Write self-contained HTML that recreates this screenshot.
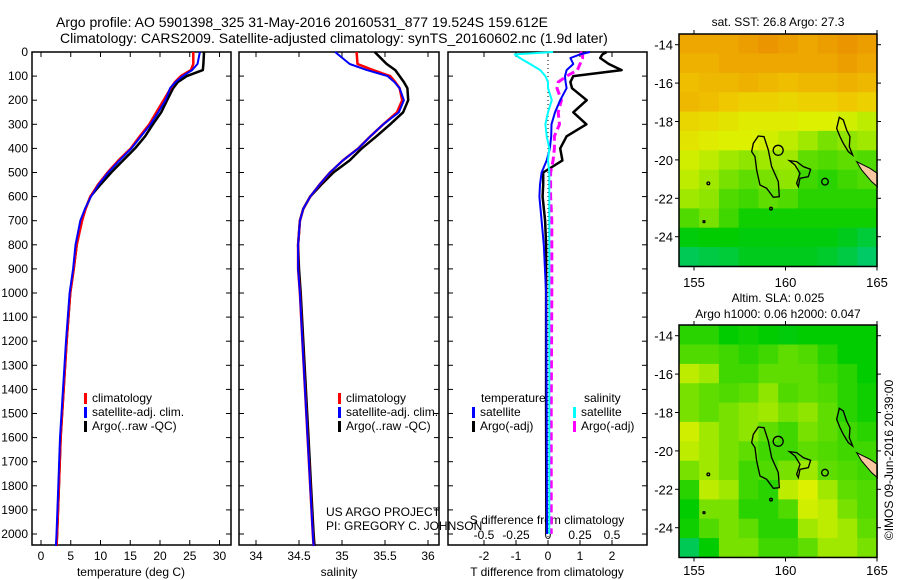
<!DOCTYPE html>
<html><head><meta charset="utf-8"><style>
html,body{margin:0;padding:0;background:#fff;}
svg{display:block;font-family:"Liberation Sans",sans-serif;}
</style></head><body>
<svg id="fig" width="900" height="580" viewBox="0 0 900 580" xmlns="http://www.w3.org/2000/svg">
<g font-size="14">
<text x="56" y="27">Argo profile: AO 5901398_325 31-May-2016 20160531_877 19.524S 159.612E</text>
<text x="60" y="43">Climatology: CARS2009. Satellite-adjusted climatology: synTS_20160602.nc (1.9d later)</text>
</g>
<g id="g1"></g>
<g id="g2"></g>
<g id="g3"></g>
<g id="m1"></g>
<g id="m2"></g>
<text x="893" y="460" font-size="12" text-anchor="middle" transform="rotate(-90 893 460)">©IMOS 09-Jun-2016 20:39:00</text>
</svg>
<script>
// ---- profile data ----
const depths = [0,50,75,100,125,150,200,250,300,350,400,450,500,550,600,650,700,800,900,1000,1200,1400,1600,1800,2000,2050];
const tempClim = [25.6,25.6,25.2,23.5,22.5,21.8,20.6,19.4,18.2,16.6,15.1,13,11.2,9.6,8.3,7.5,6.9,6.0,5.5,4.9,4.3,3.8,3.3,3.0,2.7,2.6];
const tempSat  = [26.7,26.3,25.4,23.8,22.6,21.7,20.9,19.7,18.4,16.8,15.2,13.2,11.3,9.7,8.4,7.4,6.6,5.8,5.4,4.8,4.2,3.7,3.2,2.9,2.6,2.5];
const tempArgo = [27.4,27.3,27.2,24.5,23,22.2,21.2,20.2,18.8,17.5,15.8,13.8,11.8,10,8.3,7.5,6.8,6.0,5.5,4.9,4.3,3.8,3.3,3.0,2.7,2.6];
const salClim = [35.17,35.18,35.36,35.56,35.62,35.67,35.7,35.64,35.48,35.33,35.19,35.01,34.86,34.74,34.63,34.55,34.51,34.49,34.49,34.51,34.54,34.57,34.6,34.63,34.66,34.67];
const salSat  = [34.92,35.09,35.29,35.53,35.61,35.67,35.72,35.66,35.48,35.33,35.19,35.01,34.86,34.74,34.63,34.55,34.51,34.49,34.49,34.51,34.54,34.57,34.6,34.63,34.66,34.67];
const salArgo = [35.38,35.52,35.62,35.67,35.72,35.76,35.77,35.71,35.56,35.4,35.23,35.09,34.9,34.76,34.63,34.55,34.51,34.49,34.5,34.52,34.55,34.58,34.61,34.64,34.67,34.68];
const diffDepths = [0,10,25,50,75,100,125,150,200,250,300,350,400,450,500,550,600,700,800,1000,1500,2000];
const tDiffSat  = [1.31,1.0,0.7,0.79,0.58,0.53,0.55,0.58,0.38,0.22,0.11,0.1,0.06,-0.04,-0.2,-0.25,-0.27,-0.2,-0.13,-0.06,-0.04,-0.03];
const tDiffArgo = [1.83,1.7,1.63,1.9,2.3,0.79,0.7,0.75,1.21,0.79,1.2,0.58,0.38,0.45,-0.15,-0.15,-0.17,-0.09,-0.06,-0.06,-0.06,-0.05];
const sDiffSat  = [0.04,-0.26,-0.22,-0.14,-0.06,-0.02,0,0,0.03,0.0,-0.02,-0.01,0.01,0.0,0.01,0.01,0.01,0.01,0.01,0.01,0.01,0.01];
const sDiffArgo = [0.25,0.27,0.27,0.25,0.23,0.145,0.08,0.07,0.105,0.08,0.09,0.05,0.05,0.04,0.02,0.02,0.02,0.03,0.03,0.03,0.025,0.025];
const depthTicks = [0,100,200,300,400,500,600,700,800,900,1000,1100,1200,1300,1400,1500,1600,1700,1800,1900,2000];
const tempTicks = [0,5,10,15,20,25,30];
const salTicks = [34,34.5,35,35.5,36];
const salTickLabels = ["34","34.5","35","35.5","36"];
const tdTicks = [-2,-1,0,1,2];
const sdTicks = [-0.5,-0.25,0,0.25,0.5];
const sdTickLabels = ["-0.5","-0.25","0","0.25","0.5"];
// ---- map data (rows top->bottom, cols west->east) ----
const sstGrid = [
[.85,.85,.85,.88,.9,.88,.85,.88,.9,.88],
[.82,.82,.85,.85,.85,.85,.85,.85,.88,.85],
[.78,.8,.8,.82,.8,.78,.8,.8,.82,.8],
[.8,.78,.75,.72,.72,.7,.72,.72,.75,.72],
[.7,.68,.65,.62,.62,.62,.6,.6,.58,.55],
[.65,.62,.6,.6,.58,.55,.5,.45,.48,.5],
[.58,.55,.5,.48,.5,.5,.42,.4,.42,.4],
[.55,.5,.45,.42,.45,.48,.38,.35,.38,.4],
[.5,.48,.4,.38,.42,.4,.35,.35,.35,.35],
[.4,.45,.38,.32,.32,.32,.32,.32,.32,.32],
[.28,.3,.3,.28,.28,.28,.28,.28,.25,.2],
[.15,.18,.2,.25,.25,.25,.25,.22,.18,.12]];
const slaGrid = [
[.35,.35,.3,.32,.3,.28,.3,.3,.3,.3],
[.4,.4,.38,.35,.38,.42,.4,.35,.3,.3],
[.55,.5,.38,.38,.42,.42,.42,.38,.35,.3],
[.45,.42,.4,.42,.48,.4,.42,.4,.35,.32],
[.45,.42,.45,.48,.5,.45,.48,.42,.35,.32],
[.58,.5,.45,.48,.42,.38,.45,.42,.38,.35],
[.55,.5,.45,.42,.38,.38,.42,.4,.38,.38],
[.45,.5,.45,.38,.4,.45,.5,.42,.4,.38],
[.35,.55,.5,.38,.35,.55,.6,.5,.42,.4],
[.3,.45,.45,.35,.35,.4,.58,.55,.45,.4],
[.32,.4,.45,.42,.35,.35,.5,.55,.5,.42],
[.15,.3,.45,.45,.38,.38,.42,.5,.5,.45]];
const lonTicks = [155,160,165];
const latTicks = [-14,-16,-18,-20,-22,-24];
const argoLon = [159.6];
const argoLat = [-19.5];

const NS="http://www.w3.org/2000/svg";
function mk(parent,tag,attrs){const e=document.createElementNS(NS,tag);for(const k in attrs)e.setAttribute(k,attrs[k]);parent.appendChild(e);return e;}
function txt(parent,x,y,s,anchor,size){const t=mk(parent,'text',{x:x,y:y,'font-size':size||12,'text-anchor':anchor||'start'});t.textContent=s;return t;}

const Y0=52, Y1=545, yD=d=>52+d*0.241;
function frame(g,x0,x1){const r=mk(g,'rect',{x:x0,y:Y0,width:x1-x0,height:Y1-Y0,fill:'none',stroke:'#000','stroke-width':1.5});
 depthTicks.forEach(d=>{mk(g,'line',{x1:x0,x2:x0+5,y1:yD(d),y2:yD(d),stroke:'#000'});mk(g,'line',{x1:x1-5,x2:x1,y1:yD(d),y2:yD(d),stroke:'#000'});});}
function line(g,xs,ds,xf,color,w,name,dash){const pts=xs.map((v,i)=>xf(v).toFixed(1)+','+yD(ds[i]).toFixed(1)).join(' ');const p=mk(g,'polyline',{points:pts,fill:'none',stroke:color,'stroke-width':w,'stroke-linejoin':'round'});if(dash)p.setAttribute('stroke-dasharray',dash);return p;}

// Panel 1
const g1=document.getElementById('g1');
const xT=t=>41+t*5.95;
frame(g1,32,231);
depthTicks.forEach(d=>{const t=txt(g1,28,yD(d)+4,String(d),'end');});
tempTicks.forEach(v=>{mk(g1,'line',{x1:xT(v),x2:xT(v),y1:Y0,y2:Y0+5,stroke:'#000'});mk(g1,'line',{x1:xT(v),x2:xT(v),y1:Y1-5,y2:Y1,stroke:'#000'});const t=txt(g1,xT(v),560,String(v),'middle');});
const xl1=txt(g1,131,576,'temperature (deg C)','middle');
line(g1,tempArgo,depths,xT,'#000',2.5,'temp-argo-line');
line(g1,tempClim,depths,xT,'#f00',2.5,'temp-climatology-line');
line(g1,tempSat,depths,xT,'#00f',2,'temp-satellite-line');
function legend(g,x,y,entries){entries.forEach((e,i)=>{const yy=y+i*14;mk(g,'rect',{x:x,y:yy-9,width:3,height:11,fill:e[1]});const t=txt(g,x+8,yy,e[0],'start');});}
legend(g1,84,402,[['climatology','#f00'],['satellite-adj. clim.','#00f'],['Argo(..raw -QC)','#000']]);

// Panel 2
const g2=document.getElementById('g2');
const xS=s=>256+(s-34)*86;
frame(g2,239,439);
salTicks.forEach((v,i)=>{mk(g2,'line',{x1:xS(v),x2:xS(v),y1:Y0,y2:Y0+5,stroke:'#000'});mk(g2,'line',{x1:xS(v),x2:xS(v),y1:Y1-5,y2:Y1,stroke:'#000'});const t=txt(g2,xS(v),560,salTickLabels[i],'middle');});
const xl2=txt(g2,339,576,'salinity','middle');
line(g2,salArgo,depths,xS,'#000',2.5,'sal-argo-line');
line(g2,salClim,depths,xS,'#f00',2.5,'sal-climatology-line');
line(g2,salSat,depths,xS,'#00f',2,'sal-satellite-line');
legend(g2,338,402,[['climatology','#f00'],['satellite-adj. clim.','#00f'],['Argo(..raw -QC)','#000']]);
const pr1=txt(g2,326,516,'US ARGO PROJECT');
const pr2=txt(g2,326,530,'PI: GREGORY C. JOHNSON');

// Panel 3
const g3=document.getElementById('g3');
const xTd=v=>548+v*32, xSd=v=>548+v*128;
frame(g3,448,647);
tdTicks.forEach(v=>{mk(g3,'line',{x1:xTd(v),x2:xTd(v),y1:Y0,y2:Y0+5,stroke:'#000'});mk(g3,'line',{x1:xTd(v),x2:xTd(v),y1:Y1-5,y2:Y1,stroke:'#000'});const t=txt(g3,xTd(v),560,String(v),'middle');});
sdTicks.forEach((v,i)=>{const t=txt(g3,xSd(v),539,sdTickLabels[i],'middle');});
const sdt=txt(g3,547,524,'S difference from climatology','middle');
const tdt=txt(g3,547,576,'T difference from climatology','middle');
mk(g3,'line',{x1:xTd(0),x2:xTd(0),y1:Y0,y2:Y1,stroke:'#000','stroke-dasharray':'1,3'});
line(g3,tDiffArgo,diffDepths,xTd,'#000',2.5,'t-diff-argo-line');
line(g3,sDiffArgo,diffDepths,xSd,'#f0f',3,'s-diff-argo-line','8,4');
line(g3,tDiffSat,diffDepths,xTd,'#00f',2,'t-diff-satellite-line');
line(g3,sDiffSat,diffDepths,xSd,'#0ff',2,'s-diff-satellite-line');
const l3a=txt(g3,481,402,'temperature');
const l3b=txt(g3,584,402,'salinity');
legend(g3,472,416,[['satellite','#00f'],['Argo(-adj)','#000']]);
legend(g3,573,416,[['satellite','#0ff'],['Argo(-adj)','#f0f']]);

// Maps
function cmap(v){const stops=[[0,[0,200,170]],[0.3,[0,204,0]],[0.5,[160,232,0]],[0.6,[220,240,0]],[0.75,[240,200,0]],[0.9,[235,150,0]],[1,[225,120,0]]];
 for(let i=1;i<stops.length;i++){if(v<=stops[i][0]){const a=stops[i-1],b=stops[i];const f=(v-a[0])/(b[0]-a[0]);return 'rgb('+a[1].map((c,k)=>Math.round(c+(b[1][k]-c)*f)).join(',')+')';}}return 'rgb(225,120,0)';}
function drawMap(id,top,grid,labelY,titles,titleBase){
 const g=document.getElementById(id);
 const lonX=lon=>694+(lon-155)*18.3, latY=lat=>top+10.7+(-14-lat)*19.2;
 const lon0=154.2,lon1=165,lat0=-13.45,lat1=-25.55;
 const nr=grid.length,nc=grid[0].length;const dl=(lon1-lon0)/nc,dt=(lat0-lat1)/nr;
 grid.forEach((row,r)=>row.forEach((v,c)=>{const x=lonX(lon0+c*dl),y=latY(lat0-r*dt);const cell=mk(g,'rect',{x:x.toFixed(1),y:y.toFixed(1),width:(lonX(lon0+(c+1)*dl)-x+0.6).toFixed(1),height:(latY(lat0-(r+1)*dt)-y+0.6).toFixed(1),fill:cmap(v)});}));
 const coast=mk(g,'g',{transform:'translate(640,'+(top-34)+') scale(0.3333)',fill:'none',stroke:'#000','stroke-width':4});
 
 mk(coast,'path',{d:'M650,485 L690,505 L712,520 L712,560 L695,545 L665,510 Z',fill:'#f8c8a0','stroke-width':3});
 mk(coast,'path',{d:'M355,408 L372,410 L385,450 L395,500 L415,545 L418,590 L400,592 L380,565 L360,555 L350,510 L345,470 L335,455 L340,430 Z'});
 mk(coast,'path',{d:'M598,352 L610,360 L620,390 L630,410 L628,440 L638,465 L625,455 L610,430 L600,410 L590,385 Z'});
 mk(coast,'path',{d:'M448,482 L470,485 L490,500 L512,508 L505,530 L480,535 L475,560 L470,550 L480,520 L465,495 Z'});
 mk(coast,'circle',{cx:555,cy:545,r:10});mk(coast,'circle',{cx:205,cy:550,r:4});mk(coast,'circle',{cx:393,cy:626,r:4});mk(coast,'circle',{cx:192,cy:665,r:3});
 argoLon.forEach((lo,i)=>{const c=mk(g,'circle',{cx:lonX(lo),cy:latY(argoLat[i]),r:5,fill:'none',stroke:'#000','stroke-width':1.3});});
 const fr=mk(g,'rect',{x:679,y:top,width:198,height:latY(lat1)-top,fill:'none',stroke:'#000','stroke-width':1.5});
 const bot=latY(lat1);
 lonTicks.forEach(v=>{mk(g,'line',{x1:lonX(v),x2:lonX(v),y1:top-4,y2:top,stroke:'#000'});mk(g,'line',{x1:lonX(v),x2:lonX(v),y1:bot,y2:bot+4,stroke:'#000'});const t=txt(g,lonX(v),labelY,String(v),'middle',13);});
 latTicks.forEach(v=>{mk(g,'line',{x1:675,x2:679,y1:latY(v),y2:latY(v),stroke:'#000'});mk(g,'line',{x1:877,x2:881,y1:latY(v),y2:latY(v),stroke:'#000'});const t=txt(g,673,latY(v)+5,String(v),'end',13);});
 titles.forEach((s,i)=>{const t=txt(g,778,titleBase+i*16,s,'middle',12);});
}
drawMap('m1',34,sstGrid,287,['sat. SST: 26.8 Argo: 27.3'],26);
drawMap('m2',325,slaGrid,575,['Altim. SLA: 0.025','Argo h1000: 0.06 h2000: 0.047'],302);
</script>
</body></html>
